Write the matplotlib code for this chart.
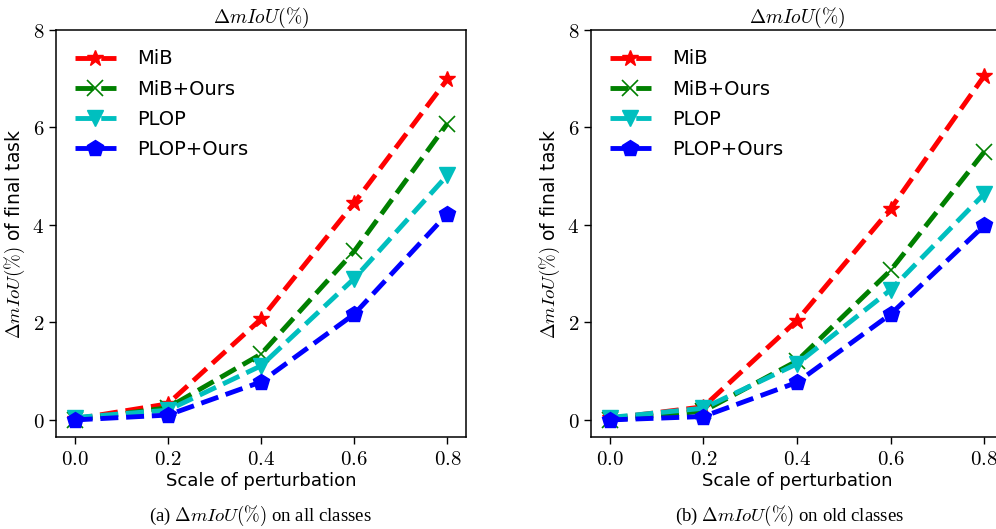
import matplotlib
matplotlib.use("Agg")
import matplotlib.pyplot as plt

plt.rcParams['mathtext.fontset'] = 'cm'
plt.rcParams['font.family'] = ['DejaVu Sans']

scales = [0.0, 0.2, 0.4, 0.6, 0.8]
xtick_labels = ['0.0', '0.2', '0.4', '0.6', '0.8']
yticks = [0, 2, 4, 6, 8]
ytick_labels = ['0', '2', '4', '6', '8']

series_names = ['MiB', 'MiB+Ours', 'PLOP', 'PLOP+Ours']

# (a) all classes
all_mib = [0.02, 0.33, 2.07, 4.45, 6.99]
all_mib_ours = [0.0, 0.25, 1.35, 3.46, 6.08]
all_plop = [0.05, 0.2, 1.11, 2.9, 5.02]
all_plop_ours = [0.0, 0.1, 0.78, 2.17, 4.23]

# (b) old classes
old_mib = [0.03, 0.27, 2.04, 4.33, 7.06]
old_mib_ours = [0.0, 0.18, 1.21, 3.07, 5.5]
old_plop = [0.05, 0.24, 1.15, 2.67, 4.64]
old_plop_ours = [0.0, 0.07, 0.77, 2.17, 3.99]

styles = [
    dict(color='red', marker='*', markersize=12),
    dict(color='green', marker='x', markersize=11, markeredgewidth=1.2),
    dict(color='c', marker='v', markersize=11),
    dict(color='blue', marker='p', markersize=12),
]

fig = plt.figure(figsize=(9.96, 5.29), dpi=100)
W, H = 996, 529
ax1 = fig.add_axes([56 / W, 1 - 437 / H, 410 / W, 407 / H])
ax2 = fig.add_axes([591 / W, 1 - 437 / H, 412 / W, 407 / H])

panels = [
    (ax1, [all_mib, all_mib_ours, all_plop, all_plop_ours]),
    (ax2, [old_mib, old_mib_ours, old_plop, old_plop_ours]),
]

for ax, data in panels:
    for name, vals, st in zip(series_names, data, styles):
        ax.plot(scales, vals, linestyle='--', linewidth=3.5, label=name, **st)
    ax.set_xlim(-0.04, 0.84)
    ax.set_ylim(-0.35, 8)
    ax.set_xticks(scales)
    ax.set_xticklabels(['$' + t + '$' for t in xtick_labels], fontsize=15)
    ax.set_yticks(yticks)
    ax.set_yticklabels(['$' + t + '$' for t in ytick_labels], fontsize=15)
    ax.tick_params(length=5, width=1)
    ax.set_title(r'$\Delta mIoU(\%)$', fontsize=14, pad=4)
    ax.set_xlabel('Scale of perturbation', fontsize=13, labelpad=2)
    ax.set_ylabel(r'$\Delta mIoU(\%)$ of final task', fontsize=13.5, labelpad=4)
    ax.legend(loc='upper left', frameon=False, fontsize=14, handlelength=2.06,
              labelspacing=0.58, borderaxespad=0.6, handletextpad=1.13)
    for s in ax.spines.values():
        s.set_linewidth(1.1)

fig.text(260 / W, 1 - 516 / H, r'(a) $\Delta mIoU(\%)$ on all classes',
         ha='center', va='center', fontsize=13.5, family='Liberation Serif')
fig.text(790 / W, 1 - 516 / H, r'(b) $\Delta mIoU(\%)$ on old classes',
         ha='center', va='center', fontsize=13.5, family='Liberation Serif')

fig.savefig('out.png', dpi=100)
